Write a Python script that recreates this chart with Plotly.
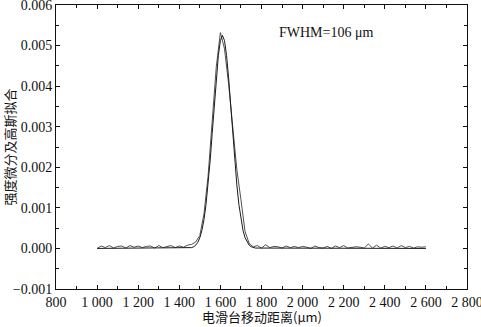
import plotly.graph_objects as go

# Measured intensity derivative along the stage travel (um)
pos_um = [1000, 1020, 1040, 1060, 1080, 1100, 1120, 1140, 1160, 1180,
          1200, 1220, 1240, 1260, 1280, 1300, 1320, 1340, 1360, 1380,
          1400, 1420, 1440, 1460, 1480, 1500, 1520, 1540, 1560, 1580,
          1600, 1620, 1640, 1660, 1680, 1700, 1720, 1740, 1760, 1780,
          1800, 1820, 1840, 1860, 1880, 1900, 1920, 1940, 1960, 1980,
          2000, 2020, 2040, 2060, 2080, 2100, 2120, 2140, 2160, 2180,
          2200, 2220, 2240, 2260, 2280, 2300, 2320, 2340, 2360, 2380,
          2400, 2420, 2440, 2460, 2480, 2500, 2520, 2540, 2560, 2580,
          2600]
deriv = [0.00000, 0.00006, 0.00002, 0.00007, 0.00001, 0.00005, 0.00006, 0.00001, 0.00007, 0.00003,
         0.00006, 0.00002, 0.00005, 0.00006, 0.00001, 0.00007, 0.00002, 0.00005, 0.00007, 0.00002,
         0.00006, 0.00003, 0.00008, 0.00010, 0.00016, 0.00032, 0.00085, 0.00178, 0.00310, 0.00448,
         0.00532, 0.00492, 0.00405, 0.00292, 0.00195, 0.00120, 0.00042, 0.00012, 0.00004, 0.00007,
         0.00001, 0.00009, 0.00002, 0.00005, 0.00004, 0.00001, 0.00006, 0.00002, 0.00005, 0.00002,
         0.00005, 0.00003, 0.00000, 0.00006, 0.00002, 0.00001, 0.00005, 0.00000, 0.00006, 0.00002,
         0.00007, 0.00001, 0.00003, 0.00004, 0.00003, 0.00001, 0.00011, 0.00001, 0.00008, 0.00001,
         0.00005, 0.00002, 0.00006, 0.00001, 0.00007, 0.00002, 0.00005, 0.00001, 0.00004, 0.00003,
         0.00004]

# Gaussian fit (centre 1610 um, FWHM 106 um), tabulated
fit_pos_um = [1000, 1450, 1460, 1470, 1480, 1490, 1500, 1510, 1520, 1530, 1540,
              1550, 1560, 1570, 1580, 1590, 1600, 1610, 1620, 1630, 1640,
              1650, 1660, 1670, 1680, 1690, 1700, 1710, 1720, 1730, 1740,
              1750, 1760, 1770, 2600]
fit_val = [0.0, 0.0000094, 0.0000203, 0.0000415, 0.0000809, 0.000150, 0.000265, 0.000445,
           0.000710, 0.001081, 0.001566, 0.002158, 0.002832, 0.003536, 0.004204, 0.004757,
           0.005122, 0.005250, 0.005122, 0.004757, 0.004204, 0.003536, 0.002832, 0.002158,
           0.001566, 0.001081, 0.000710, 0.000445, 0.000265, 0.000150, 0.0000809, 0.0000415,
           0.0000203, 0.0000094, 0.0]

x_range = [800, 2800]
y_range = [-0.001, 0.006]
x_ticks = [800, 1000, 1200, 1400, 1600, 1800, 2000, 2200, 2400, 2600, 2800]
x_tick_text = ["800", "1 000", "1 200", "1 400", "1 600", "1 800",
               "2 000", "2 200", "2 400", "2 600", "2 800"]
y_ticks = [-0.001, 0.000, 0.001, 0.002, 0.003, 0.004, 0.005, 0.006]
y_tick_text = ["\u22120.001", "0.000", "0.001", "0.002", "0.003", "0.004", "0.005", "0.006"]

fwhm_label = "FWHM=106 \u03bcm"
x_title = "电滑台移动距离(μm)"
y_title = "强度微分及高斯拟合"

serif = "Liberation Serif, Times New Roman, serif"
cjk = "Noto Sans CJK SC, sans-serif"
ink = "#111111"

fig = go.Figure()
fig.add_trace(go.Scatter(x=pos_um, y=deriv, mode="lines",
                         line=dict(color="#505050", width=1), showlegend=False))
fig.add_trace(go.Scatter(x=fit_pos_um, y=fit_val, mode="lines",
                         line=dict(color="#1a1a1a", width=1), showlegend=False))
# empty trace so the top/right tick axes are drawn
fig.add_trace(go.Scatter(x=[], y=[], xaxis="x2", yaxis="y2", showlegend=False,
                         hoverinfo="skip"))

fig.add_annotation(x=1875, y=0.00532, xref="x", yref="y", text=fwhm_label,
                   showarrow=False, xanchor="left", yanchor="middle",
                   font=dict(family=serif, size=14, color=ink))
# x-axis title, set a little below the tick labels
fig.add_annotation(x=0.5, y=0, xref="paper", yref="paper", text=x_title,
                   showarrow=False, xanchor="center", yanchor="middle", yshift=-27,
                   borderpad=0, font=dict(family=cjk, size=13, color=ink))

xr = [x_range[0] - 1e-6, x_range[1] + 1e-6]
yr = [y_range[0] - 1e-9, y_range[1] + 1e-9]
x_minor = dict(ticks="inside", dtick=100, tick0=800, ticklen=3, tickcolor=ink)
y_minor = dict(ticks="inside", dtick=0.0005, tick0=0, ticklen=3, tickcolor=ink)
common = dict(showline=True, linecolor=ink, linewidth=1, ticks="inside", ticklen=4,
              tickcolor=ink, showgrid=False, zeroline=False, automargin=False,
              ticklabeloverflow="allow",
              tickfont=dict(family=serif, size=14, color=ink))

fig.update_layout(
    width=481, height=327, margin=dict(l=56, r=14, t=5, b=38),
    paper_bgcolor="white", plot_bgcolor="white",
    xaxis=dict(range=xr, tickvals=x_ticks, ticktext=x_tick_text, minor=x_minor,
               **common),
    yaxis=dict(range=yr, tickvals=y_ticks, ticktext=y_tick_text, minor=y_minor,
               title=dict(text=y_title, font=dict(family=cjk, size=13, color=ink)),
               **common),
    xaxis2=dict(overlaying="x", side="top", range=xr, tickvals=x_ticks,
                showticklabels=False, minor=x_minor, **common),
    yaxis2=dict(overlaying="y", side="right", range=yr, tickvals=y_ticks,
                showticklabels=False, minor=y_minor, **common),
)

fig.write_html("out.html")
